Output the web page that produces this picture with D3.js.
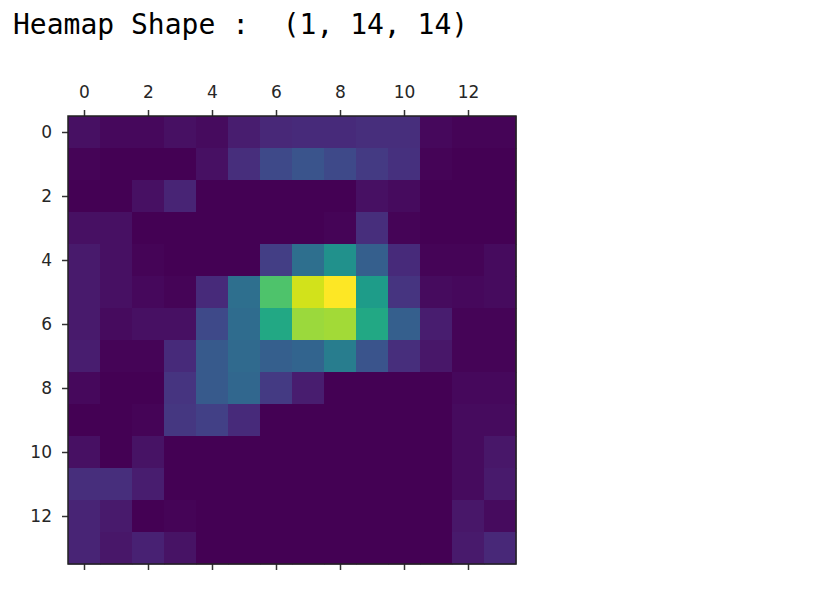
<!DOCTYPE html>
<html>
<head>
<meta charset="utf-8">
<script src="https://cdn.jsdelivr.net/npm/d3@7"></script>
<style>
  body { margin: 0; background: #fff; }
  .tick text { font-family: "DejaVu Sans", sans-serif; font-size: 17px; fill: #262626; }
  .tick line { stroke: #333; stroke-width: 1.5; }
</style>
</head>
<body>
<div id="chart"></div>
<script>
// Heatmap values (rows top to bottom, 14 x 14), normalised 0..1
const rows = [
  [0.04,0.02,0.02,0.04,0.03,0.08,0.11,0.12,0.12,0.13,0.13,0.02,0.01,0.01],
  [0.01,0.00,0.00,0.00,0.04,0.13,0.22,0.26,0.22,0.17,0.14,0.01,0.00,0.00],
  [0.00,0.00,0.04,0.10,0.00,0.00,0.00,0.00,0.00,0.04,0.03,0.00,0.00,0.00],
  [0.04,0.04,0.00,0.00,0.00,0.00,0.00,0.00,0.01,0.13,0.01,0.00,0.00,0.00],
  [0.07,0.04,0.01,0.00,0.00,0.00,0.18,0.36,0.50,0.30,0.12,0.01,0.01,0.03],
  [0.07,0.04,0.02,0.01,0.12,0.36,0.72,0.93,1.00,0.55,0.15,0.03,0.02,0.03],
  [0.07,0.03,0.04,0.04,0.22,0.35,0.60,0.85,0.86,0.60,0.30,0.08,0.01,0.01],
  [0.08,0.01,0.01,0.12,0.28,0.34,0.30,0.32,0.42,0.26,0.13,0.06,0.01,0.01],
  [0.02,0.00,0.00,0.15,0.28,0.33,0.17,0.08,0.00,0.00,0.00,0.00,0.02,0.02],
  [0.00,0.00,0.01,0.16,0.19,0.12,0.00,0.00,0.00,0.00,0.00,0.00,0.03,0.03],
  [0.04,0.00,0.05,0.00,0.00,0.00,0.00,0.00,0.00,0.00,0.00,0.00,0.03,0.06],
  [0.13,0.13,0.08,0.00,0.00,0.00,0.00,0.00,0.00,0.00,0.00,0.00,0.03,0.07],
  [0.10,0.07,0.00,0.01,0.00,0.00,0.00,0.00,0.00,0.00,0.00,0.00,0.06,0.03],
  [0.10,0.06,0.09,0.05,0.00,0.00,0.00,0.00,0.00,0.00,0.00,0.00,0.07,0.11]
]
const tickValues = [0, 2, 4, 6, 8, 10, 12]
const title = "Heamap Shape :  (1, 14, 14)"

const svgWidth = 832
const svgHeight = 592
const margin = { top: 116, left: 68 }
const size = 448

let svg = d3.select("#chart")
  .append("svg")
  .attr("width", svgWidth)
  .attr("height", svgHeight)

svg.append("text")
  .attr("x", 13)
  .attr("y", 34)
  .style("font-family", "'DejaVu Sans Mono', monospace")
  .style("font-size", "28px")
  .style("white-space", "pre")
  .attr("xml:space", "preserve")
  .attr("fill", "#000")
  .text(title)

let g = svg.append("g")
  .attr("transform", `translate(${margin.left}, ${margin.top})`)

let x = d3.scaleLinear().domain([-0.5, 13.5]).range([0, size])
let y = d3.scaleLinear().domain([-0.5, 13.5]).range([0, size])
let color = d3.scaleSequential(d3.interpolateViridis).domain([0, 1])

let cells = []
rows.forEach((r, i) => r.forEach((v, j) => cells.push({ row: i, col: j, v: v })))

g.selectAll("rect.cell")
  .data(cells)
  .enter()
  .append("rect")
  .attr("class", "cell")
  .attr("x", d => x(d.col - 0.5))
  .attr("y", d => y(d.row - 0.5))
  .attr("width", x(1) - x(0) + 0.5)
  .attr("height", y(1) - y(0) + 0.5)
  .attr("fill", d => color(d.v))

// axes
let topAxis = d3.axisTop(x).tickValues(tickValues).tickSize(6).tickPadding(12)
let bottomAxis = d3.axisBottom(x).tickValues(tickValues).tickSize(6).tickFormat("")
let leftAxis = d3.axisLeft(y).tickValues(tickValues).tickSize(6).tickPadding(10)

g.append("g").call(topAxis).call(a => a.select(".domain").remove())
g.append("g").attr("transform", `translate(0, ${size})`).call(bottomAxis)
  .call(a => a.select(".domain").remove())
g.append("g").call(leftAxis).call(a => a.select(".domain").remove())

g.append("rect")
  .attr("width", size)
  .attr("height", size)
  .attr("fill", "none")
  .attr("stroke", "#222")
  .attr("stroke-width", 1.5)
</script>
</body>
</html>
